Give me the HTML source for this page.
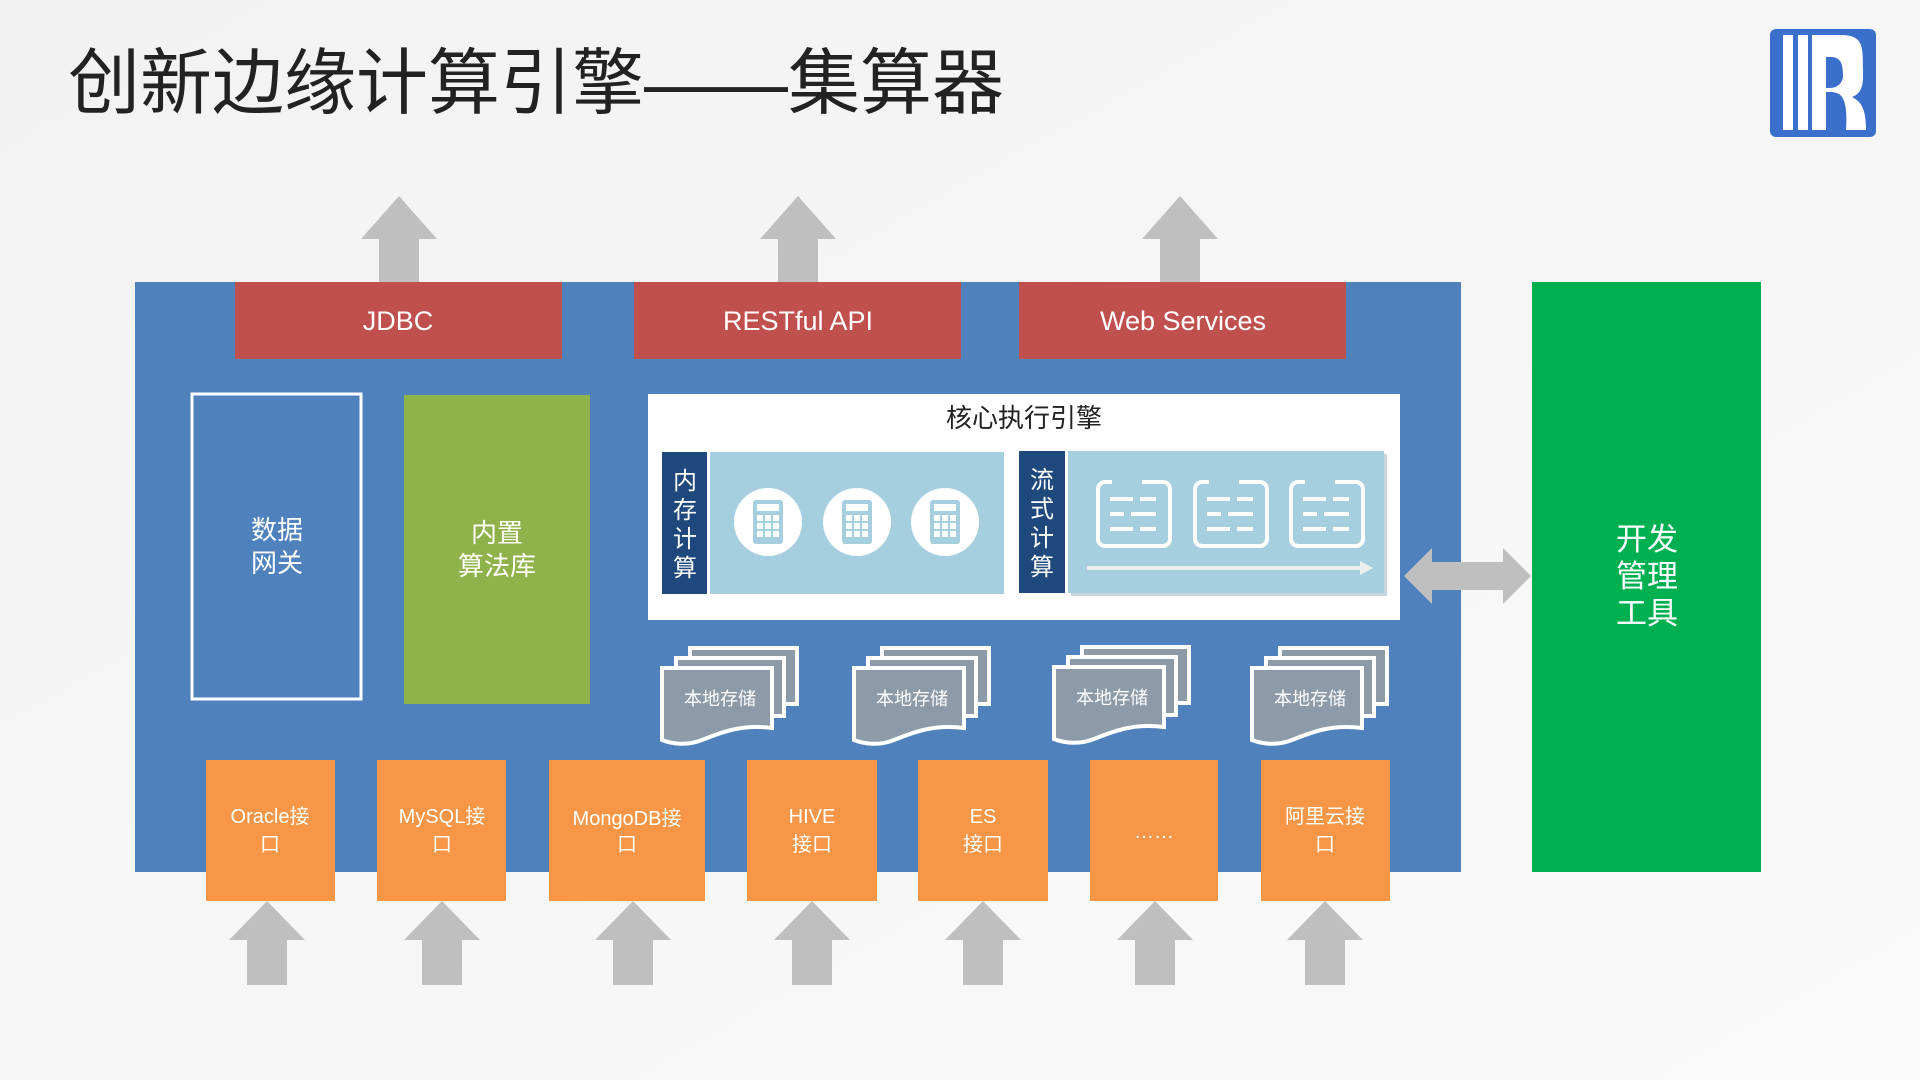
<!DOCTYPE html>
<html><head><meta charset="utf-8"><style>
html,body{margin:0;padding:0;width:1920px;height:1080px;overflow:hidden;background:#f6f6f6}
svg{display:block}
text{font-family:"Liberation Sans","Noto Sans CJK SC",sans-serif}
</style></head><body>
<svg width="1920" height="1080" viewBox="0 0 1920 1080" xmlns="http://www.w3.org/2000/svg">
<defs>
<linearGradient id="bg" x1="0" y1="0" x2="1" y2="1"><stop offset="0" stop-color="#f2f2f2"/><stop offset="1" stop-color="#fafafa"/></linearGradient>
<g id="upA"><path d="M-38 43 L0 0 L38 43 L20 43 L20 86 L-20 86 L-20 43 Z" fill="#bfbfbf"/></g>
<g id="upB"><path d="M-38 39 L0 0 L38 39 L20 39 L20 84 L-20 84 L-20 39 Z" fill="#bfbfbf"/></g>
<g id="calc"><circle r="34" fill="#fff"/><rect x="-15" y="-22" width="30" height="44" rx="3" fill="#a5cfdf"/><rect x="-11" y="-18" width="22" height="7" fill="#fff"/>
<g fill="#fff"><rect x="-11" y="-7" width="6" height="6"/><rect x="-3" y="-7" width="6" height="6"/><rect x="5" y="-7" width="6" height="6"/><rect x="-11" y="1" width="6" height="6"/><rect x="-3" y="1" width="6" height="6"/><rect x="5" y="1" width="6" height="6"/><rect x="-11" y="9" width="6" height="6"/><rect x="-3" y="9" width="6" height="6"/><rect x="5" y="9" width="6" height="6"/></g></g>
<g id="doc"><rect x="0" y="0" width="72" height="64" rx="7" fill="none" stroke="#fff" stroke-width="4"/>
<rect x="14" y="-3" width="30" height="7" fill="#a5cfdf"/>
<g stroke="#fff" stroke-width="4"><line x1="12" y1="17" x2="35" y2="17"/><line x1="42" y1="17" x2="58" y2="17"/><line x1="12" y1="32" x2="26" y2="32"/><line x1="33" y1="32" x2="58" y2="32"/><line x1="12" y1="47" x2="35" y2="47"/><line x1="42" y1="47" x2="58" y2="47"/></g></g>
<g id="stk">
<path d="M28 0 H135 V56 H28 Z" fill="#8d9aa8" stroke="#fff" stroke-width="4"/>
<path d="M14 10 H122 V68 H14 Z" fill="#8d9aa8" stroke="#fff" stroke-width="4"/>
<path d="M0 20 H110 V80 C80 76 60 84 40 92 C25 98 10 96 0 92 Z" fill="#8d9aa8" stroke="#fff" stroke-width="4"/>
<text x="58" y="57" font-size="18" fill="#fff" text-anchor="middle">本地存储</text></g>
</defs>
<rect width="1920" height="1080" fill="url(#bg)"/>
<text x="68" y="108" font-size="72" fill="#222">创新边缘计算引擎——集算器</text>
<!-- logo -->
<rect x="1770" y="29" width="106" height="108" rx="6" fill="#3a6fcc"/>
<rect x="1783" y="35" width="10" height="95" fill="#fff"/><rect x="1798" y="35" width="10" height="95" fill="#fff"/>
<path d="M1812 35 H1840 C1863 35 1863 45 1863 70 V76 H1843 C1843 62 1840 57 1830 57 H1812 Z M1812 92 H1830 C1842 92 1848 98 1846 130 H1866 C1866 110 1862 102 1852 97 C1860 94 1863 88 1863 76 H1843 C1843 82 1838 88 1830 88 H1812 Z" fill="#fff"/>
<rect x="1812" y="35" width="14" height="95" fill="#fff"/>
<!-- top arrows -->
<use href="#upA" x="399" y="196"/><use href="#upA" x="798" y="196"/><use href="#upA" x="1180" y="196"/>
<!-- main box -->
<rect x="135" y="282" width="1326" height="590" fill="#4f81bd"/>
<rect x="235" y="282" width="327" height="77" fill="#c0504d"/>
<rect x="634" y="282" width="327" height="77" fill="#c0504d"/>
<rect x="1019" y="282" width="327" height="77" fill="#c0504d"/>
<g font-size="27" fill="#fff" text-anchor="middle"><text x="398" y="330">JDBC</text><text x="798" y="330">RESTful API</text><text x="1183" y="330">Web Services</text></g>
<rect x="192" y="394" width="169" height="305" fill="none" stroke="#fff" stroke-width="3"/>
<g font-size="26" fill="#fff" text-anchor="middle"><text x="277" y="539">数据</text><text x="277" y="572">网关</text></g>
<rect x="404" y="395" width="186" height="309" fill="#8fb24a"/>
<g font-size="26" fill="#fff" text-anchor="middle"><text x="497" y="542">内置</text><text x="497" y="575">算法库</text></g>
<!-- core engine -->
<rect x="648" y="394" width="752" height="226" fill="#fff"/>
<text x="1024" y="427" font-size="26" fill="#222" text-anchor="middle">核心执行引擎</text>
<rect x="662" y="452" width="45" height="142" fill="#1f497d"/>
<rect x="710" y="452" width="294" height="142" fill="#a5cfdf"/>
<g font-size="24" fill="#fff" text-anchor="middle"><text x="685" y="489">内</text><text x="685" y="518">存</text><text x="685" y="547">计</text><text x="685" y="576">算</text></g>
<use href="#calc" x="768" y="522"/><use href="#calc" x="857" y="522"/><use href="#calc" x="945" y="522"/>
<rect x="1019" y="451" width="46" height="142" fill="#1f497d"/>
<rect x="1071" y="454" width="316" height="142" fill="#c8d4da"/>
<rect x="1068" y="451" width="316" height="142" fill="#a5cfdf"/>
<g font-size="24" fill="#fff" text-anchor="middle"><text x="1042" y="488">流</text><text x="1042" y="517">式</text><text x="1042" y="546">计</text><text x="1042" y="575">算</text></g>
<use href="#doc" x="1098" y="482"/><use href="#doc" x="1195" y="482"/><use href="#doc" x="1291" y="482"/>
<line x1="1087" y1="568" x2="1362" y2="568" stroke="#eee" stroke-width="4"/>
<path d="M1360 561 L1373 568 L1360 575 Z" fill="#eee"/>
<!-- storage -->
<use href="#stk" x="662" y="648"/><use href="#stk" x="854" y="648"/><use href="#stk" x="1054" y="647"/><use href="#stk" x="1252" y="648"/>
<!-- double arrow -->
<path d="M1404 576 L1432 548 L1432 562 L1503 562 L1503 548 L1531 576 L1503 604 L1503 590 L1432 590 L1432 604 Z" fill="#bfbfbf"/>
<!-- green -->
<rect x="1532" y="282" width="229" height="590" fill="#00b050"/>
<g font-size="31" fill="#fff" text-anchor="middle"><text x="1647" y="550">开发</text><text x="1647" y="587">管理</text><text x="1647" y="624">工具</text></g>
<!-- orange -->
<g fill="#f79646"><rect x="206" y="760" width="129" height="141"/><rect x="377" y="760" width="129" height="141"/><rect x="549" y="760" width="156" height="141"/><rect x="747" y="760" width="130" height="141"/><rect x="918" y="760" width="130" height="141"/><rect x="1090" y="760" width="128" height="141"/><rect x="1261" y="760" width="129" height="141"/></g>
<g font-size="20" fill="#fff" text-anchor="middle">
<text x="270" y="823">Oracle接</text><text x="270" y="851">口</text>
<text x="442" y="823">MySQL接</text><text x="442" y="851">口</text>
<text x="627" y="825">MongoDB接</text><text x="627" y="851">口</text>
<text x="812" y="823">HIVE</text><text x="812" y="851">接口</text>
<text x="983" y="823">ES</text><text x="983" y="851">接口</text>
<text x="1154" y="838">……</text>
<text x="1325" y="823">阿里云接</text><text x="1325" y="851">口</text></g>
<!-- bottom arrows -->
<use href="#upB" x="267" y="901"/><use href="#upB" x="442" y="901"/><use href="#upB" x="633" y="901"/><use href="#upB" x="812" y="901"/><use href="#upB" x="983" y="901"/><use href="#upB" x="1155" y="901"/><use href="#upB" x="1325" y="901"/>
</svg>
</body></html>
